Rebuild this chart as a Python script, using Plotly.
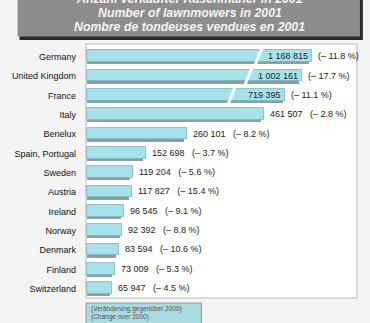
import plotly.graph_objects as go

countries = ["Germany", "United Kingdom", "France", "Italy", "Benelux", "Spain, Portugal",
             "Sweden", "Austria", "Ireland", "Norway", "Denmark", "Finland", "Switzerland"]
units = [1168815, 1002161, 719395, 461507, 260101, 152698, 119204, 117827, 96545, 92392,
         83594, 73009, 65947]
change_pct = [-11.8, -17.7, -11.1, -2.8, -8.2, -3.7, -5.6, -15.4, -9.1, -8.8, -10.6, -5.3, -4.5]

BREAK_AT = 480000      # axis break: values above this are compressed
BREAK_FACTOR = 0.155

def shown(v):
    return v if v <= BREAK_AT else BREAK_AT + (v - BREAK_AT) * BREAK_FACTOR

disp = [shown(v) for v in units]
fmt = lambda v: f"{v:,}".replace(",", " ")
fmtp = lambda p: f"(– {abs(p):.1f} %)"

W, H = 370, 323
L, R, T, B = 80, 13, 44, 25
PW, PH = W - L - R, H - T - B
def xp(px): return (px - L) / PW
def yp(py): return 1 - (py - T) / PH

fig = go.Figure()
# shadows
fig.add_trace(go.Bar(y=list(range(len(countries))), x=[d - 7000 for d in disp], orientation="h",
                     width=0.6, offset=-0.22, marker=dict(color="#9a9a9a", line=dict(width=0)),
                     hoverinfo="skip", showlegend=False))
# bars
fig.add_trace(go.Bar(y=list(range(len(countries))), x=disp, orientation="h",
                     width=0.6, offset=-0.34,
                     marker=dict(color="#a6e2ea", line=dict(color="#6fb5bf", width=0.8)),
                     showlegend=False))

shapes = []
annotations = []
font = "Liberation Sans, Arial, sans-serif"
for i, (v, d, p) in enumerate(zip(units, disp, change_pct)):
    if v > BREAK_AT:
        xs = d - 140000
        shapes.append(dict(type="line", xref="x", yref="y", x0=xs - 9000, y0=i + 0.45,
                           x1=xs + 9000, y1=i - 0.45, line=dict(color="white", width=3),
                           layer="above"))
        annotations.append(dict(x=d, y=i - 0.04, xref="x", yref="y", text=fmt(v), showarrow=False,
                                xanchor="right", xshift=-2, font=dict(size=9, color="#222", family=font)))
        annotations.append(dict(x=d, y=i - 0.04, xref="x", yref="y", text=fmtp(p), showarrow=False,
                                xanchor="left", xshift=4, font=dict(size=9, color="#222", family=font)))
    else:
        annotations.append(dict(x=d, y=i - 0.04, xref="x", yref="y",
                                text=fmt(v) + "&nbsp;&nbsp;&nbsp;" + fmtp(p), showarrow=False,
                                xanchor="left", xshift=4, font=dict(size=9, color="#222", family=font)))

# title box with shadow
shapes.append(dict(type="rect", xref="paper", yref="paper", x0=xp(12), x1=xp(363), y0=yp(40), y1=yp(-5),
                   fillcolor="#2b2b2b", line=dict(width=0), layer="below"))
shapes.append(dict(type="rect", xref="paper", yref="paper", x0=xp(10), x1=xp(360), y0=yp(36.5), y1=yp(-5),
                   fillcolor="#8d8d8d", line=dict(width=0), layer="below"))
# frame
shapes.append(dict(type="rect", xref="paper", yref="paper", x0=0, x1=1, y0=0, y1=1,
                   line=dict(color="#b8b8b8", width=1), layer="above"))
# note box
shapes.append(dict(type="rect", xref="paper", yref="paper", x0=xp(80), x1=xp(198), y0=yp(326), y1=yp(303),
                   fillcolor="#a9dadf", line=dict(color="#8a9ea0", width=1)))

titles = ["Anzahl verkaufter Rasenmäher in 2001", "Number of lawnmowers in 2001",
          "Nombre de tondeuses vendues en 2001"]
title_y = [-1.5, 13.0, 26.8]
for t, ty in zip(titles, title_y):
    annotations.append(dict(x=xp(186), y=yp(ty), xref="paper", yref="paper", text=f"<b><i>{t}</i></b>",
                            showarrow=False, xanchor="center", yanchor="middle",
                            font=dict(size=12.3, color="#f4f4f4", family=font)))
notes = ["(Veränderung gegenüber 2000)", "(Change over 2000)"]
for k, t in enumerate(notes):
    annotations.append(dict(x=xp(83), y=yp(309 + 8 * k), xref="paper", yref="paper", text=t, showarrow=False,
                            xanchor="left", yanchor="middle", font=dict(size=6.5, color="#555", family=font)))

fig.update_layout(
    width=W, height=H, margin=dict(l=L, r=R, t=T, b=B, pad=0),
    paper_bgcolor="#f4f4f4", plot_bgcolor="white", barmode="overlay", bargap=0,
    xaxis=dict(range=[-2500, 704000], visible=False, fixedrange=True),
    yaxis=dict(range=[12.47, -0.67], tickmode="array", tickvals=list(range(len(countries))),
               ticktext=countries, showgrid=False, zeroline=False, ticks="", ticklabelstandoff=9,
               tickfont=dict(size=9, color="#111", family=font)),
    shapes=shapes, annotations=annotations, showlegend=False,
)
fig.write_html("out.html")
